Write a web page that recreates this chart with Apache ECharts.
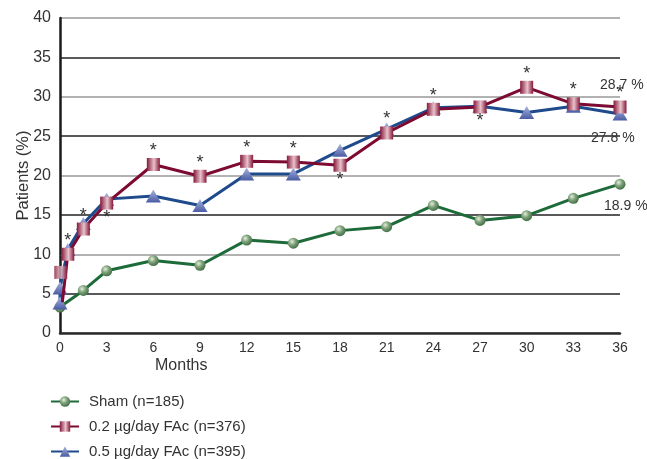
<!DOCTYPE html>
<html>
<head>
<meta charset="utf-8">
<script src="https://cdn.jsdelivr.net/npm/echarts@6/dist/echarts.min.js"></script>
<style>
  html, body { margin: 0; padding: 0; background: #fff; }
  #chart { width: 647px; height: 459px; }
</style>
</head>
<body>
<div id="chart"></div>
<script>
// Cumulative proportion of patients (%) over follow-up months
const shamMonths = [0, 1.5, 3, 6, 9, 12, 15, 18, 21, 24, 27, 30, 33, 36];
const shamValues = [3.3, 5.4, 7.9, 9.2, 8.6, 11.8, 11.4, 13.0, 13.5, 16.2, 14.3, 14.9, 17.1, 18.9];

// 0.2 µg/day: the line starts near baseline before the first plotted square
const lowMonths = [0.15, 0.5, 1.5, 3, 6, 9, 12, 15, 18, 21, 24, 27, 30, 33, 36];
const lowValues = [3.9, 10.0, 13.2, 16.5, 21.4, 19.9, 21.8, 21.7, 21.3, 25.4, 28.4, 28.7, 31.2, 29.1, 28.7];
const lowBaselineMonth = [0.05];
const lowBaselineValue = [7.7];

const highMonths = [0, 0, 0.5, 1.5, 3, 6, 9, 12, 15, 18, 21, 24, 27, 30, 33, 36];
const highValues = [3.8, 5.7, 10.6, 13.9, 17.0, 17.4, 16.2, 20.2, 20.2, 23.2, 25.9, 28.6, 28.8, 28.0, 28.8, 27.8];

// Significance markers on the 0.2 µg/day curve
const starsAbove = [0.5, 1.5, 6, 9, 12, 15, 21, 24, 30, 33, 36];
const starsBelow = [3, 18, 27];

const xTicks = [0, 3, 6, 9, 12, 15, 18, 21, 24, 27, 30, 33, 36];
const yTicks = [0, 5, 10, 15, 20, 25, 30, 35, 40];

const seriesNames = ['Sham (n=185)', '0.2 µg/day FAc (n=376)', '0.5 µg/day FAc (n=395)'];

const GREEN = '#1e6b3a', RED = '#7c0a33', BLUE = '#1f4a8c';
const TXT = '#333';
const FONT = 'Liberation Sans, Arial, sans-serif';

const sphere = new echarts.graphic.RadialGradient(0.38, 0.35, 0.7, [
  { offset: 0, color: '#e4efdc' },
  { offset: 0.45, color: '#7fa27a' },
  { offset: 1, color: '#3d6a42' }
]);
const barSquare = new echarts.graphic.LinearGradient(0, 0, 1, 0, [
  { offset: 0, color: '#84183a' },
  { offset: 0.55, color: '#e9c3cc' },
  { offset: 1, color: '#84183a' }
]);
const prism = new echarts.graphic.LinearGradient(0, 0, 0, 1, [
  { offset: 0, color: '#a9b5e0' },
  { offset: 1, color: '#4a5ca3' }
]);

const pair = (xs, ys) => xs.map((x, i) => [x, ys[i]]);

const lowData = lowMonths.map((m, i) => {
  const item = { value: [m, lowValues[i]] };
  if (i === 0) item.symbol = 'none';
  if (starsAbove.includes(m)) item.label = { show: true, position: 'top', distance: -2 };
  if (starsBelow.includes(m)) item.label = { show: true, position: 'bottom', distance: -1 };
  return item;
});

const starLabel = {
  show: false, formatter: '*', color: TXT, fontSize: 18, fontFamily: FONT
};
const valueLabel = (dx, dy) => ({
  show: true,
  formatter: p => p.value[1].toFixed(1) + ' %',
  color: TXT, fontSize: 14, fontFamily: FONT,
  offset: [dx, dy], distance: 0, align: 'left'
});

const chart = echarts.init(document.getElementById('chart'), null, { renderer: 'canvas' });
chart.setOption({
  animation: false,
  backgroundColor: '#fff',
  grid: { left: 60, right: 27, top: 18, bottom: 126, containLabel: false, outerBoundsMode: 'none' },
  xAxis: {
    type: 'value', min: xTicks[0], max: xTicks[xTicks.length - 1], interval: 3,
    axisLine: { show: true, lineStyle: { color: '#2b2b2b', width: 2.5 } },
    axisTick: { show: false },
    splitLine: { show: false },
    axisLabel: {
      color: TXT, fontSize: 14, margin: 8, fontFamily: FONT,
      formatter: v => xTicks.includes(v) ? String(v) : ''
    }
  },
  yAxis: {
    type: 'value', min: yTicks[0], max: yTicks[yTicks.length - 1], interval: 5,
    axisLine: { show: true, lineStyle: { color: '#1a1a1a', width: 2.5 } },
    axisTick: { show: false },
    splitLine: { show: true, lineStyle: { color: ['#999', '#222'], width: 1.5 } },
    axisLabel: { color: TXT, fontSize: 16, margin: 9, fontFamily: FONT },
    name: 'Patients (%)', nameLocation: 'middle', nameGap: 28, nameRotate: 90,
    nameMoveOverlap: false,
    nameTextStyle: { color: TXT, fontSize: 16.5, fontFamily: FONT }
  },
  legend: {
    orient: 'vertical', left: 50, top: 394, height: 70, padding: 0,
    itemWidth: 28, itemHeight: 13, itemGap: 10,
    data: [seriesNames[0], seriesNames[1], seriesNames[2]],
    textStyle: { color: TXT, fontSize: 15, padding: [0, 0, 0, 5], fontFamily: FONT }
  },
  graphic: [{
    type: 'text', left: 155, top: 358,
    style: { text: 'Months', fill: TXT, fontSize: 16, fontFamily: FONT }
  }],
  series: [
    {
      name: seriesNames[0], type: 'line', data: pair(shamMonths, shamValues),
      symbol: 'circle', symbolSize: 11,
      lineStyle: { color: GREEN, width: 3 },
      itemStyle: { color: sphere, borderWidth: 0 },
      z: 2,
      endLabel: valueLabel(-16, 22)
    },
    {
      name: seriesNames[2], type: 'line', data: pair(highMonths, highValues),
      symbol: 'triangle', symbolSize: [15, 13],
      lineStyle: { color: BLUE, width: 3 },
      itemStyle: { color: prism, borderWidth: 0 },
      z: 3,
      endLabel: valueLabel(-29, 24)
    },
    {
      name: seriesNames[1], type: 'line', data: lowData,
      symbol: 'rect', symbolSize: 13,
      lineStyle: { color: RED, width: 3 },
      itemStyle: { color: barSquare, borderWidth: 0 },
      label: starLabel,
      z: 4,
      endLabel: valueLabel(-20, -22)
    },
    {
      name: seriesNames[1] + ' baseline', type: 'scatter',
      data: pair(lowBaselineMonth, lowBaselineValue),
      symbol: 'rect', symbolSize: 13,
      itemStyle: { color: barSquare, borderWidth: 0 },
      z: 4
    }
  ]
});
</script>
</body>
</html>
